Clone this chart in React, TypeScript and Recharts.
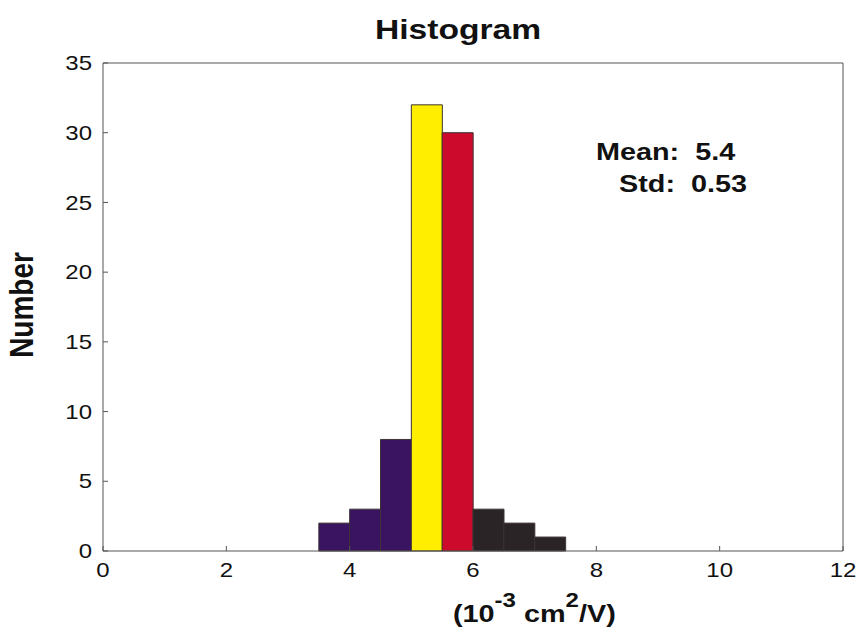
import React from 'react';
import { ComposedChart, Bar, XAxis, YAxis, Cell } from 'recharts';

// Histogram bins (width 0.5, from 0 to 12) and their counts
const binCenters = [
  0.25, 0.75, 1.25, 1.75, 2.25, 2.75, 3.25, 3.75, 4.25, 4.75, 5.25, 5.75,
  6.25, 6.75, 7.25, 7.75, 8.25, 8.75, 9.25, 9.75, 10.25, 10.75, 11.25, 11.75,
];
const counts = [
  0, 0, 0, 0, 0, 0, 0, 2, 3, 8, 32, 30,
  3, 2, 1, 0, 0, 0, 0, 0, 0, 0, 0, 0,
];
const xTicks = [0, 2, 4, 6, 8, 10, 12];
const yTicks = [0, 5, 10, 15, 20, 25, 30, 35];
const meanValue = '5.4';
const stdValue = '0.53';

const data = binCenters.map((x, i) => ({ bin: String(x), x, count: counts[i] }));

const PURPLE = '#3a1460';
const YELLOW = '#ffee00';
const RED = '#cc0a2c';
const DARK = '#2a2426';
const colorFor = (x: number) => {
  if (x < 5) return PURPLE;
  if (x < 5.5) return YELLOW;
  if (x < 6) return RED;
  return DARK;
};

const FONT = 'Liberation Sans, Arial, Helvetica, sans-serif';
const SX = 1.2;

const BottomTick = (props: any) => {
  const { x, y, payload } = props;
  return (
    <text
      transform={`translate(${x},${y}) scale(${SX},1)`}
      textAnchor="middle"
      dy="0.71em"
      fontSize={20}
      fontFamily={FONT}
      fill="#111"
    >
      {payload.value}
    </text>
  );
};

const LeftTick = (props: any) => {
  const { x, y, payload } = props;
  return (
    <text
      transform={`translate(${x},${y}) scale(${SX},1)`}
      textAnchor="end"
      dy="0.355em"
      fontSize={20}
      fontFamily={FONT}
      fill="#111"
    >
      {payload.value}
    </text>
  );
};

const AXIS = '#555';

export default function App() {
  return (
    <div style={{ position: 'absolute', left: 0, top: 0, width: 861, height: 633, background: '#fff' }}>
      <ComposedChart
        width={861}
        height={633}
        data={data}
        margin={{ top: 62, right: 17, bottom: 52, left: 43 }}
        barCategoryGap={0}
        barGap={0}
      >
        <XAxis
          xAxisId="num"
          dataKey="x"
          type="number"
          domain={[0, 12]}
          allowDataOverflow
          ticks={xTicks}
          height={30}
          tickSize={-5}
          tickMargin={17}
          stroke={AXIS}
          tick={<BottomTick />}
        />
        <XAxis xAxisId="bins" dataKey="bin" type="category" hide height={0} />
        <XAxis
          xAxisId="top"
          dataKey="x"
          orientation="top"
          type="number"
          domain={[0, 12]}
          allowDataOverflow
          ticks={xTicks}
          height={1}
          tickSize={-5}
          tick={false}
          stroke={AXIS}
        />
        <YAxis
          yAxisId="left"
          type="number"
          domain={[0, 35]}
          ticks={yTicks}
          width={60}
          tickSize={-5}
          tickMargin={16}
          stroke={AXIS}
          tick={<LeftTick />}
        />
        <YAxis
          yAxisId="right"
          orientation="right"
          type="number"
          domain={[0, 35]}
          ticks={yTicks}
          width={1}
          tickSize={-5}
          tick={false}
          stroke={AXIS}
        />
        <Bar
          xAxisId="bins"
          yAxisId="left"
          dataKey="count"
          isAnimationActive={false}
          stroke="#3d3333"
          strokeWidth={1}
        >
          {data.map((d, i) => (
            <Cell key={i} fill={colorFor(d.x)} />
          ))}
        </Bar>
      </ComposedChart>
      <svg
        width={861}
        height={633}
        style={{ position: 'absolute', left: 0, top: 0, pointerEvents: 'none' }}
      >
        <text
          transform={`translate(458,39) scale(${SX},1)`}
          textAnchor="middle"
          fontSize={28}
          fontWeight="bold"
          fontFamily={FONT}
          fill="#111"
        >
          Histogram
        </text>
        <text
          transform={`translate(33,305) scale(${SX},1) rotate(-90)`}
          textAnchor="middle"
          fontSize={28}
          fontWeight="bold"
          fontFamily={FONT}
          fill="#111"
        >
          Number
        </text>
        <text
          transform={`translate(453,622) scale(${SX},1)`}
          fontSize={24}
          fontWeight="bold"
          fontFamily={FONT}
          fill="#111"
        >
          (10
          <tspan fontSize={20} dy={-15}>-3</tspan>
          <tspan dy={15}>{'\u00a0cm'}</tspan>
          <tspan fontSize={20} dy={-15}>2</tspan>
          <tspan dy={15}>/V)</tspan>
        </text>
        <text
          transform={`translate(596,160) scale(${SX},1)`}
          fontSize={24}
          fontWeight="bold"
          fontFamily={FONT}
          fill="#111"
        >
          {`Mean:\u00a0\u00a0${meanValue}`}
        </text>
        <text
          transform={`translate(619,192) scale(${SX},1)`}
          fontSize={24}
          fontWeight="bold"
          fontFamily={FONT}
          fill="#111"
        >
          {`Std:\u00a0\u00a0${stdValue}`}
        </text>
      </svg>
    </div>
  );
}
